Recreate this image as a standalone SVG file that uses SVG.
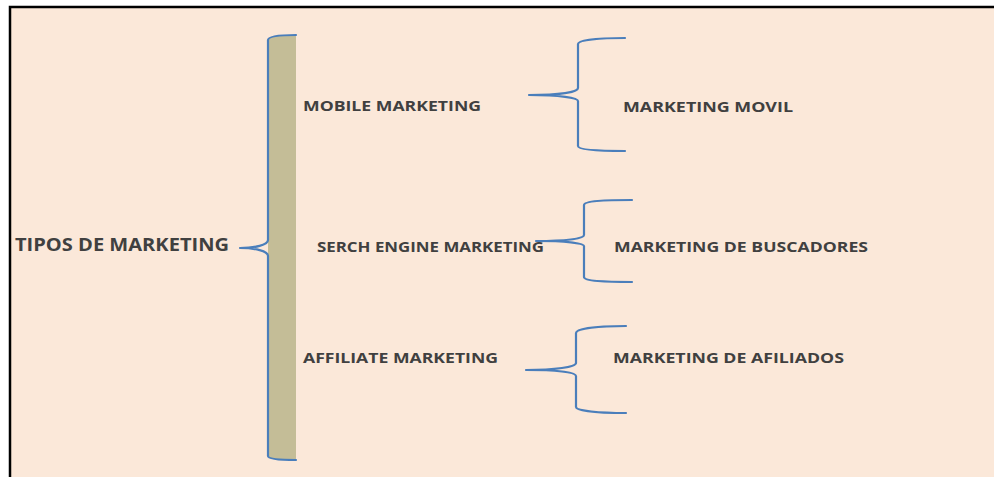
<svg xmlns="http://www.w3.org/2000/svg" width="994" height="477" viewBox="0 0 994 477">
<style>
.brace{fill:none;stroke:#4A7EBB;stroke-width:2.2;stroke-linejoin:round;stroke-linecap:round}
.t{font-family:"Open Sans","Liberation Sans",Arial,sans-serif;font-weight:bold;fill:#404040}
</style>
<rect x="0" y="0" width="994" height="477" fill="#ffffff"/>
<rect x="10" y="7" width="984" height="470" fill="#FBE8D9"/>
<path d="M10,477 L10,7 L994,7" fill="none" stroke="#000" stroke-width="2.5"/>
<g id="connectors">
<path d="M296,35 C280,35 268,36 268,40 L268,456 C268,459 280,460 296,460 Z" fill="#C4BD97"/>
<path class="brace" d="M296,35 C280,35 268,36 268,40 L268,240 C268,245 255,248 240,248 C255,248 268,251 268,256 L268,456 C268,459 280,460 296,460"/>
<path class="brace" d="M625,38 C600,38 578,40 578,44 L578,88 C578,92 560,95 529,95 C560,95 578,98 578,101 L578,146 C578,150 600,151 625,151"/>
<path class="brace" d="M632,200 C605,200 584,201 584,205 L584,235 C584,239 565,241 536,241 C565,241 584,243 584,246 L584,277 C584,281 605,282 632,282"/>
<path class="brace" d="M626,326 C600,326 576,328 576,333 L576,363 C576,367 555,370 526,370 C555,370 576,372 576,376 L576,407 C576,411 600,413 626,413"/>
</g>
<g id="tipos"><text class="t" x="15" y="251" font-size="17.5" textLength="214" lengthAdjust="spacingAndGlyphs">TIPOS DE MARKETING</text></g>
<g id="mobile"><text class="t" x="303" y="111" font-size="14" textLength="178" lengthAdjust="spacingAndGlyphs">MOBILE MARKETING</text></g>
<g id="serch"><text class="t" x="317" y="252" font-size="13.5" textLength="227" lengthAdjust="spacingAndGlyphs">SERCH ENGINE MARKETING</text></g>
<g id="affiliate"><text class="t" x="303" y="363" font-size="14" textLength="195" lengthAdjust="spacingAndGlyphs">AFFILIATE MARKETING</text></g>
<g id="movil"><text class="t" x="623" y="112" font-size="14" textLength="170" lengthAdjust="spacingAndGlyphs">MARKETING MOVIL</text></g>
<g id="buscadores"><text class="t" x="614" y="252" font-size="14" textLength="254" lengthAdjust="spacingAndGlyphs">MARKETING DE BUSCADORES</text></g>
<g id="afiliados"><text class="t" x="613" y="363" font-size="14" textLength="231" lengthAdjust="spacingAndGlyphs">MARKETING DE AFILIADOS</text></g>
</svg>
